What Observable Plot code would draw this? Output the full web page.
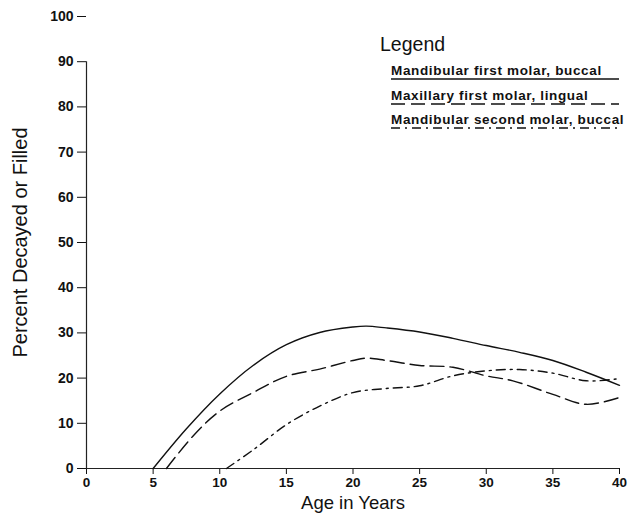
<!DOCTYPE html>
<html>
<head>
<meta charset="utf-8">
<script src="https://cdn.jsdelivr.net/npm/d3@7"></script>
<script src="https://cdn.jsdelivr.net/npm/@observablehq/plot@0.6"></script>
<style>
  body { margin: 0; background: #fff; }
  #wrap { position: relative; width: 634px; height: 519px; font-family: "Liberation Sans", Arial, sans-serif; }
  .lg { position: absolute; white-space: nowrap; color: #111; line-height: 1; }
  .lg.title { font-size: 19.5px; }
  .lg.item { font-size: 13.5px; font-weight: bold; letter-spacing: 0.65px; }
  .lg.key { line-height: 0; }
</style>
</head>
<body>
<div id="wrap"></div>
<script>
// Series names
const seriesNames = [
  "Mandibular first molar, buccal",
  "Maxillary first molar, lingual",
  "Mandibular second molar, buccal"
];
// Mandibular first molar, buccal (solid)
const agesA = [5, 7.5, 10, 12.5, 15, 17.5, 20, 21, 22.5, 25, 27.5, 30, 32.5, 35, 37.5, 40];
const valsA = [0, 8.8, 16.5, 22.8, 27.4, 30.1, 31.3, 31.5, 31.1, 30.2, 28.8, 27.2, 25.7, 23.9, 21.3, 18.4];
// Maxillary first molar, lingual (long dash)
const agesB = [6, 8, 10, 12.5, 15, 17.5, 20, 21, 22.5, 25, 27.5, 30, 32, 35, 37.5, 40];
const valsB = [0, 7.2, 12.7, 16.8, 20.4, 22.0, 23.9, 24.4, 23.9, 22.8, 22.4, 20.5, 19.4, 16.4, 14.2, 15.7];
// Mandibular second molar, buccal (dash-dot)
const agesC = [10.5, 12.5, 15, 17.5, 20, 22.5, 25, 27.5, 30, 32.5, 35, 37.5, 40];
const valsC = [0, 4.1, 9.7, 13.8, 16.8, 17.7, 18.3, 20.5, 21.6, 21.9, 21.1, 19.4, 19.9];

const yTicks = [0, 10, 20, 30, 40, 50, 60, 70, 80, 90, 100];
const xTicks = [0, 5, 10, 15, 20, 25, 30, 35, 40];
const xLabel = "Age in Years";
const yLabel = "Percent Decayed or Filled";
const legendTitle = "Legend";

const dashes = [null, "14,6", "9,5,2,5"];
const series = [[agesA, valsA], [agesB, valsB], [agesC, valsC]].map(([xs, ys], i) =>
  xs.map((x, j) => ({x, y: ys[j], s: seriesNames[i]}))
);

const chart = Plot.plot({
  width: 634,
  height: 519,
  marginLeft: 86,
  marginRight: 15,
  marginTop: 16,
  marginBottom: 51,
  style: {fontFamily: "Liberation Sans, Arial, sans-serif", fontSize: "14px", color: "#111", background: "#fff"},
  x: {domain: [0, 40]},
  y: {domain: [0, 100]},
  marks: [
    Plot.axisY({ticks: yTicks, tickSize: 9, tickPadding: 4, label: null, fontSize: 14, fontWeight: "bold"}),
    Plot.axisX({ticks: xTicks, tickSize: 6, tickPadding: 3, label: null, fontSize: 13.5, fontWeight: "bold"}),
    Plot.ruleX([0], {y1: 0, y2: 90, stroke: "#222", strokeWidth: 1.2}),
    Plot.ruleY([0], {x1: 0, x2: 40, stroke: "#222", strokeWidth: 1.2}),
    ...series.map((d, i) => Plot.line(d, {
      x: "x", y: "y", curve: "catmull-rom", stroke: "#111", strokeWidth: 1.4,
      strokeDasharray: dashes[i]
    })),
    Plot.text([xLabel], {frameAnchor: "bottom", dy: 40, fontSize: 18.5, text: d => d}),
    Plot.text([yLabel], {frameAnchor: "left", textAnchor: "middle", dx: -66, rotate: -90, fontSize: 20, text: d => d})
  ]
});

const wrap = document.getElementById("wrap");
wrap.appendChild(chart);

function addDiv(cls, left, top, html) {
  const d = document.createElement("div");
  d.className = "lg " + cls;
  d.style.left = left + "px";
  d.style.top = top + "px";
  d.innerHTML = html;
  wrap.appendChild(d);
}
addDiv("title", 380, 35, legendTitle);
seriesNames.forEach((n, i) => {
  const top = 64 + i * 24.5;
  addDiv("item", 391, top, n);
  addDiv("key", 391, top + 13,
    `<svg width="230" height="4" style="display:block"><line x1="0" x2="228" y1="2" y2="2" stroke="#111" stroke-width="1.3" ${dashes[i] ? `stroke-dasharray="${dashes[i]}"` : ""}/></svg>`);
});
</script>
</body>
</html>
